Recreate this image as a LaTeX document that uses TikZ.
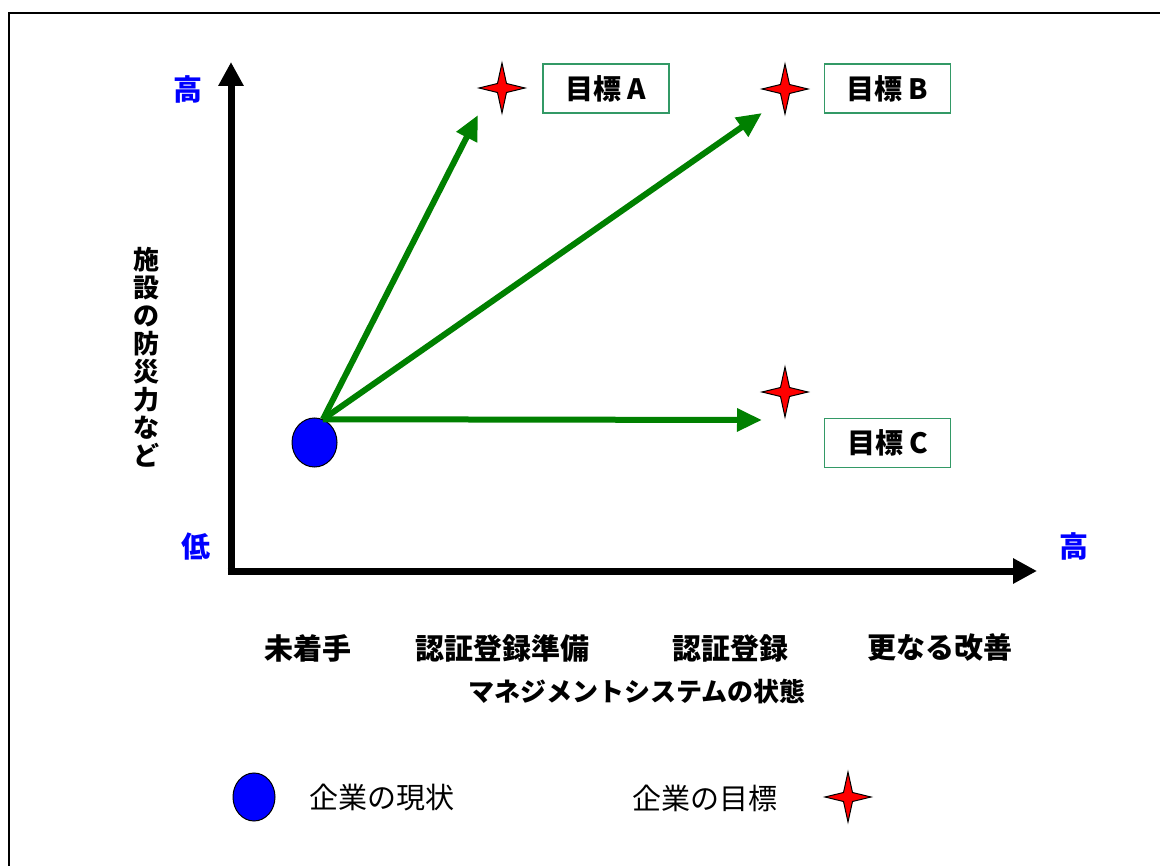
\documentclass[tikz,border=0pt]{standalone}
\usepackage{fontspec}
\newfontfamily\jp{Noto Sans CJK JP}
\usetikzlibrary{arrows.meta,shapes.geometric}
\definecolor{boxgreen}{RGB}{51,153,102}
\definecolor{arrgreen}{RGB}{0,128,0}
\definecolor{axblue}{RGB}{0,0,255}
\tikzset{
  axisline/.style={line width=7pt,-{Triangle[length=24pt,width=24pt]}},
  garrow/.style={draw=arrgreen,line width=6pt,-{Triangle[length=25pt,width=22pt]}},
  goalbox/.style={draw=boxgreen,line width=1.5pt,minimum width=126pt,minimum height=49pt,inner sep=0pt,font=\jp\bfseries\fontsize{28}{30}\selectfont},
  axlabel/.style={text=axblue,inner sep=0pt,font=\jp\bfseries\fontsize{29}{30}\selectfont},
  catlabel/.style={inner sep=0pt,font=\jp\bfseries\fontsize{29}{30}\selectfont},
  leglabel/.style={inner sep=0pt,font=\jp\fontsize{29}{30}\selectfont},
  cur/.style={ellipse,draw=black,line width=1pt,fill=axblue,inner sep=0pt},
  star4/.pic={\draw[fill=red,line width=1pt] (0,-25) -- (4.5,-4.5) -- (23,0) -- (4.5,4.5) -- (0,25) -- (-4.5,4.5) -- (-23,0) -- (-4.5,-4.5) -- cycle;}
}
\begin{document}
\begin{tikzpicture}[x=1pt,y=-1pt]
\useasboundingbox[fill=white] (0,0) rectangle (1160,866);
% frame
\draw[line width=2.5pt] (9,868) -- (9,13) -- (1162,13);
% axes
\coordinate (O) at (231,571);
\coordinate (ytip) at (231,62);
\coordinate (xtip) at (1037,571);
\draw[axisline] ([yshift=3.5pt]O) -- (ytip);
\draw[axisline] ([xshift=-3.5pt]O) -- (xtip);
\node[axlabel] (yhigh) at (187.5,89) {高};
\node[axlabel] (ylow) at (196,547) {低};
\node[axlabel] (xhigh) at (1074,546) {高};
% y label
\node[catlabel,align=center,font=\jp\bfseries\fontsize{26}{28}\selectfont] (ylab) at (146,357.5) {施\\設\\の\\防\\災\\力\\な\\ど};
% categories
\node[catlabel] (c1) at (307.5,648) {未着手};
\node[catlabel] (c2) at (502,648) {認証登録準備};
\node[catlabel] (c3) at (730,648) {認証登録};
\node[catlabel] (c4) at (940,648) {更なる改善};
\node[catlabel,font=\jp\bfseries\fontsize{26}{28}\selectfont] (xlab) at (637,692) {マネジメントシステムの状態};
% current position
\node[cur,minimum width=45pt,minimum height=49pt] (now) at (314.5,442.5) {};
% targets
\pic (starA) at (502,88) {star4};
\pic (starB) at (785,89) {star4};
\pic (starC) at (785,392) {star4};
\node[goalbox] (boxA) at (606,88.5) {目標\hspace{6pt}A};
\node[goalbox] (boxB) at (887.5,88.5) {目標\hspace{6pt}B};
\node[goalbox] (boxC) at (887.5,443) {目標\hspace{6pt}C};
\coordinate (tA) at (478,115);
\coordinate (tB) at (762,113);
\coordinate (tC) at (762,420);
\draw[garrow] (now.70) -- (tA);
\draw[garrow] (now.70) -- (tB);
\draw[garrow] (now.70) -- (tC);
% legend
\node[cur,minimum width=42pt,minimum height=48pt] (legnow) at (254,797) {};
\node[leglabel] (legnowtxt) at (382,798) {企業の現状};
\node[leglabel] (leggoaltxt) at (705,798) {企業の目標};
\pic (legstar) at (848,797) {star4};
\end{tikzpicture}
\end{document}
